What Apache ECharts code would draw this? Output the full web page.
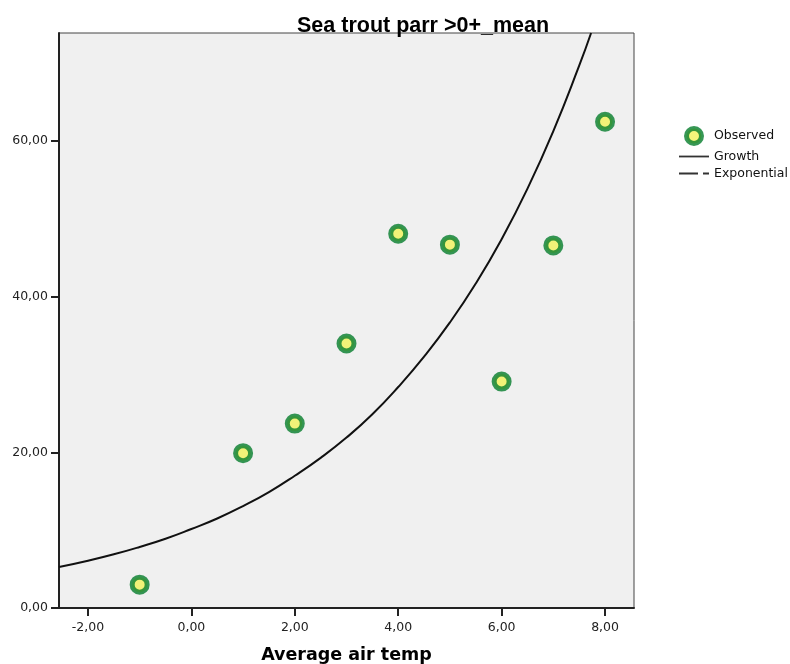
<!DOCTYPE html>
<html>
<head>
<meta charset="utf-8">
<script src="https://cdn.jsdelivr.net/npm/echarts@6/dist/echarts.min.js"></script>
<style>html,body{margin:0;padding:0;background:#fff;}#c{width:790px;height:664px;}</style>
</head>
<body>
<div id="c"></div>
<script>
// Observed data
const tempX = [-1, 1, 2, 3, 4, 5, 6, 7, 8];
const parrMean = [3.0, 19.9, 23.7, 34.0, 48.1, 46.7, 29.1, 46.6, 62.5];
// Growth curve
const curveX = [-2.56, -2, -1.5, -1, -0.5, 0, 0.5, 1, 1.5, 2, 2.5, 3, 3.5, 4, 4.5, 5, 5.5, 6, 6.5, 7, 7.5, 7.73];
const curveY = [5.26, 6.07, 6.9, 7.85, 8.9, 10.15, 11.5, 13.1, 14.9, 17.0, 19.3, 21.9, 24.9, 28.4, 32.3, 36.7, 41.7, 47.4, 53.9, 61.3, 69.7, 73.9];
const xTicks = [-2, 0, 2, 4, 6, 8];
const yTicks = [0, 20, 40, 60];

const fmt = v => Number(v).toFixed(2).replace('.', ',');
const SANS = '"Liberation Sans", Arial, sans-serif';
const DJ = '"DejaVu Sans", Verdana, sans-serif';
const GREEN = '#057d2c';
const YELLOW = '#f2f25a';

const chart = echarts.init(document.getElementById('c'));
chart.setOption({
  animation: false,
  backgroundColor: '#ffffff',
  title: {
    text: 'Sea trout parr >0+_mean',
    left: 292, top: 10,
    textStyle: { fontFamily: SANS, fontSize: 21.5, fontWeight: 'bold', color: '#000' }
  },
  grid: {
    left: 59, right: 156, top: 33, bottom: 56,
    outerBoundsMode: 'none', containLabel: false,
    show: true, backgroundColor: '#f0f0f0', borderColor: '#444', borderWidth: 1
  },
  legend: {
    orient: 'vertical', left: 679, top: 126, itemGap: 4, padding: 0,
    itemWidth: 30, itemHeight: 15,
    textStyle: { fontFamily: DJ, fontSize: 12.5, color: '#111' },
    data: [
      { name: 'Observed', icon: 'circle', itemStyle: { color: YELLOW, borderColor: GREEN, borderWidth: 5 } },
      { name: 'Growth', icon: 'path://M0,0 H30 V1.8 H0 Z', itemStyle: { color: '#333', borderWidth: 0 } },
      { name: 'Exponential', icon: 'path://M0,0 H19 V1.8 H0 Z M24,0 H27 V1.8 H24 Z M27,0 H30 V1.8 H27 Z', itemStyle: { color: '#333', borderWidth: 0 } }
    ]
  },
  xAxis: {
    type: 'value', min: -2.56, max: 8.56,
    name: 'Average air temp', nameLocation: 'middle', nameGap: 38,
    nameTextStyle: { fontFamily: DJ, fontSize: 17.5, fontWeight: 'bold', color: '#000' },
    axisLine: { show: true, onZero: false, lineStyle: { color: '#222', width: 2 } },
    axisTick: { show: true, length: 8, lineStyle: { color: '#222', width: 2 }, customValues: xTicks },
    axisLabel: { fontFamily: DJ, fontSize: 12.5, color: '#222', margin: 13, formatter: fmt, customValues: xTicks },
    splitLine: { show: false }
  },
  yAxis: {
    type: 'value', min: 0, max: 73.9,
    axisLine: { show: true, onZero: false, lineStyle: { color: '#222', width: 2 } },
    axisTick: { show: true, length: 8, lineStyle: { color: '#222', width: 2 }, customValues: yTicks },
    axisLabel: { fontFamily: DJ, fontSize: 12.5, color: '#222', margin: 11, formatter: fmt, customValues: yTicks },
    splitLine: { show: false }
  },
  series: [
    {
      name: 'Growth', type: 'line', smooth: true, symbol: 'none', clip: true,
      lineStyle: { color: '#111', width: 2 },
      itemStyle: { color: '#111' },
      data: curveX.map((x, i) => [x, curveY[i]]), z: 2
    },
    {
      name: 'Exponential', type: 'line', symbol: 'none',
      lineStyle: { color: '#111', width: 2, type: [12, 4, 2, 4] },
      itemStyle: { color: '#111' },
      data: []
    },
    {
      name: 'Observed', type: 'scatter', symbol: 'circle', symbolSize: 15,
      itemStyle: { color: YELLOW, borderColor: GREEN, borderWidth: 5 },
      data: tempX.map((x, i) => [x, parrMean[i]]), z: 3
    }
  ]
});
</script>
</body>
</html>
